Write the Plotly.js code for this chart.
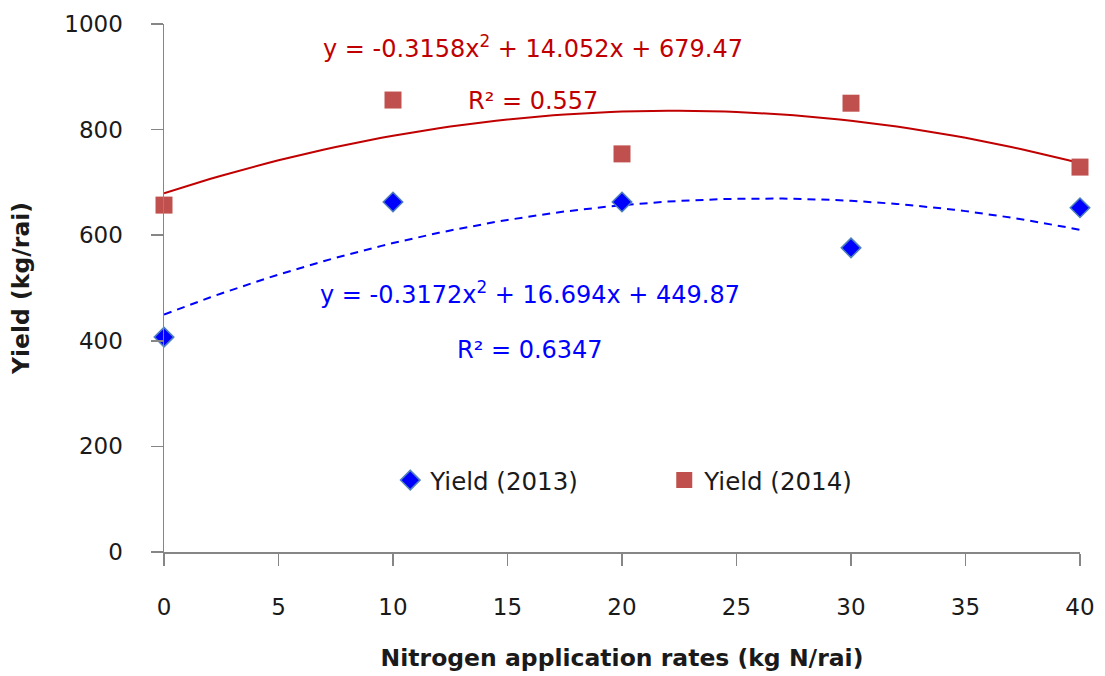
<!DOCTYPE html>
<html><head><meta charset="utf-8">
<script src="https://cdn.plot.ly/plotly-3.0.1.min.js"></script>
<style>html,body{margin:0;padding:0;background:#fff}#c{width:1105px;height:676px}</style>
</head><body><div id="c"></div>
<script>
const rates = [0, 10, 20, 30, 40];
const yield2013 = [407, 663, 663, 576, 652];
const yield2014 = [657, 856, 754, 850, 729];
const coef2013 = [-0.3172, 16.694, 449.87];
const coef2014 = [-0.3158, 14.052, 679.47];
const eq2013 = 'y = -0.3172x<sup>2</sup> + 16.694x + 449.87';
const eq2014 = 'y = -0.3158x<sup>2</sup> + 14.052x + 679.47';
const r2013 = 'R² = 0.6347';
const r2014 = 'R² = 0.557';
const xTicks = [0, 5, 10, 15, 20, 25, 30, 35, 40];
const yTicks = [0, 200, 400, 600, 800, 1000];

const fx = [];
for (let x = 0; x <= 40; x += 0.5) fx.push(x);
const poly = c => fx.map(x => c[0]*x*x + c[1]*x + c[2]);

const FONT = 'DejaVu Sans, sans-serif';
const traces = [
  {x: fx, y: poly(coef2014), mode: 'lines', line: {color: '#C00000', width: 2}, showlegend: false, hoverinfo: 'skip'},
  {x: fx, y: poly(coef2013), mode: 'lines', line: {color: '#0000FF', width: 2, dash: '8px,6px'}, showlegend: false, hoverinfo: 'skip'},
  {x: rates, y: yield2013, mode: 'markers', name: 'Yield (2013)', cliponaxis: false,
   marker: {symbol: 'diamond', size: 15, color: '#0000FF', line: {color: '#4F81BD', width: 1.5}}},
  {x: rates, y: yield2014, mode: 'markers', name: 'Yield (2014)', cliponaxis: false,
   marker: {symbol: 'square', size: 17, color: '#C0504D', line: {color: '#C0504D', width: 0}}}
];

const layout = {
  width: 1105, height: 676,
  margin: {l: 164, r: 25, t: 24, b: 124},
  paper_bgcolor: '#fff', plot_bgcolor: '#fff',
  font: {family: FONT, size: 22, color: '#1a1a1a'},
  showlegend: true,
  legend: {orientation: 'h', x: 0.247, y: 0.136, xanchor: 'left', yanchor: 'middle',
           entrywidth: 229, entrywidthmode: 'pixels', font: {size: 24.5, color: '#1a1a1a'}, bgcolor: 'rgba(0,0,0,0)'},
  xaxis: {range: [0, 40], tickvals: xTicks, ticktext: xTicks.map(String), ticks: 'outside', ticklen: 12,
          tickcolor: '#868686', tickwidth: 1.5, showline: true, linecolor: '#868686', linewidth: 1.5,
          showgrid: false, zeroline: false, ticklabelstandoff: 22, tickfont: {size: 23},
          title: {text: '<b>Nitrogen application rates (kg N/rai)</b>', font: {size: 23.5}, standoff: 30}},
  yaxis: {range: [0, 1000], tickvals: yTicks, ticktext: yTicks.map(String), ticks: 'outside', ticklen: 12,
          tickcolor: '#868686', tickwidth: 1.5, showline: true, linecolor: '#868686', linewidth: 1.5,
          showgrid: false, zeroline: false, ticklabelstandoff: 23, tickfont: {size: 23},
          title: {text: '<b>Yield (kg/rai)</b>', font: {size: 23.5}, standoff: 28}},
  annotations: [
    {x: 16.1, y: 956, xref: 'x', yref: 'y', text: eq2014, showarrow: false, font: {size: 24, color: '#C00000'}},
    {x: 16.1, y: 854, xref: 'x', yref: 'y', text: r2014, showarrow: false, font: {size: 24, color: '#C00000'}},
    {x: 16.0, y: 490, xref: 'x', yref: 'y', text: eq2013, showarrow: false, font: {size: 24, color: '#0000FF'}},
    {x: 16.0, y: 383, xref: 'x', yref: 'y', text: r2013, showarrow: false, font: {size: 24, color: '#0000FF'}}
  ]
};
Plotly.newPlot('c', traces, layout, {displayModeBar: false, staticPlot: true});
</script></body></html>
